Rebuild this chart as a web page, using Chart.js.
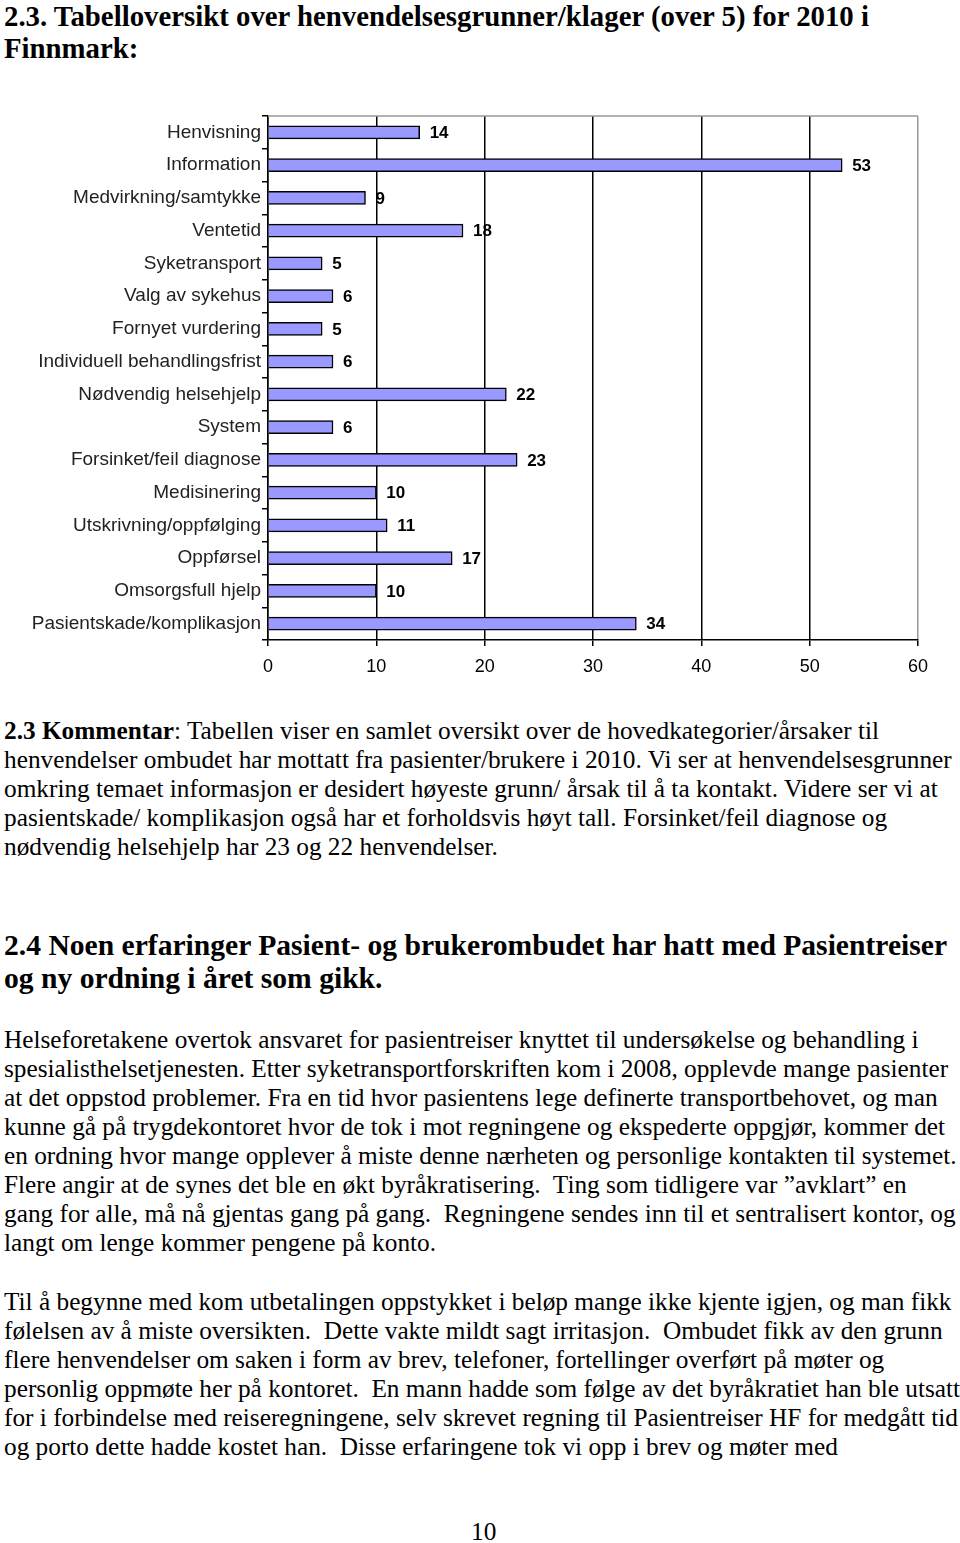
<!DOCTYPE html>
<html>
<head>
<meta charset="utf-8">
<script src="https://cdn.jsdelivr.net/npm/chart.js@4"></script>
<style>
  body { margin: 0; width: 960px; height: 1543px; background: #fff; position: relative; overflow: hidden; }
  .t { position: absolute; left: 4px; font-family: 'Liberation Serif', 'Times New Roman', serif; color: #000; white-space: nowrap; }
  #title { top: 0; font-size: 28.8px; font-weight: bold; line-height: 32px; }
  #komm { top: 716px; font-size: 25.3px; line-height: 29px; }
  #h24 { top: 929px; font-size: 29.6px; font-weight: bold; line-height: 33px; }
  #p1 { top: 1025px; font-size: 25.3px; line-height: 29px; }
  #p2 { top: 1287px; font-size: 25.3px; line-height: 29px; }
  #pnum { top: 1517px; left: 471px; font-size: 25.3px; line-height: 29px; }
  #wrap { position: absolute; left: 0; top: 100px; width: 960px; height: 590px; }
</style>
</head>
<body>
<div class="t" id="title">2.3. Tabelloversikt over henvendelsesgrunner/klager (over 5) for 2010 i<br>Finnmark:</div>
<div id="wrap"><canvas id="chart"></canvas></div>
<div class="t" id="komm"><b>2.3 Kommentar</b>: Tabellen viser en samlet oversikt over de hovedkategorier/årsaker til<br>henvendelser ombudet har mottatt fra pasienter/brukere i 2010. Vi ser at henvendelsesgrunner<br>omkring temaet informasjon er desidert høyeste grunn/ årsak til å ta kontakt. Videre ser vi at<br>pasientskade/ komplikasjon også har et forholdsvis høyt tall. Forsinket/feil diagnose og<br>nødvendig helsehjelp har 23 og 22 henvendelser.</div>
<div class="t" id="h24">2.4 Noen erfaringer Pasient- og brukerombudet har hatt med Pasientreiser<br>og ny ordning i året som gikk.</div>
<div class="t" id="p1">Helseforetakene overtok ansvaret for pasientreiser knyttet til undersøkelse og behandling i<br>spesialisthelsetjenesten. Etter syketransportforskriften kom i 2008, opplevde mange pasienter<br>at det oppstod problemer. Fra en tid hvor pasientens lege definerte transportbehovet, og man<br>kunne gå på trygdekontoret hvor de tok i mot regningene og ekspederte oppgjør, kommer det<br>en ordning hvor mange opplever å miste denne nærheten og personlige kontakten til systemet.<br>Flere angir at de synes det ble en økt byråkratisering.&nbsp; Ting som tidligere var ”avklart” en<br>gang for alle, må nå gjentas gang på gang.&nbsp; Regningene sendes inn til et sentralisert kontor, og<br>langt om lenge kommer pengene på konto.</div>
<div class="t" id="p2">Til å begynne med kom utbetalingen oppstykket i beløp mange ikke kjente igjen, og man fikk<br>følelsen av å miste oversikten.&nbsp; Dette vakte mildt sagt irritasjon.&nbsp; Ombudet fikk av den grunn<br>flere henvendelser om saken i form av brev, telefoner, fortellinger overført på møter og<br>personlig oppmøte her på kontoret.&nbsp; En mann hadde som følge av det byråkratiet han ble utsatt<br>for i forbindelse med reiseregningene, selv skrevet regning til Pasientreiser HF for medgått tid<br>og porto dette hadde kostet han.&nbsp; Disse erfaringene tok vi opp i brev og møter med</div>
<div class="t" id="pnum">10</div>
<script>
var categories = ['Henvisning', 'Information', 'Medvirkning/samtykke', 'Ventetid', 'Syketransport',
  'Valg av sykehus', 'Fornyet vurdering', 'Individuell behandlingsfrist', 'Nødvendig helsehjelp',
  'System', 'Forsinket/feil diagnose', 'Medisinering', 'Utskrivning/oppfølging', 'Oppførsel',
  'Omsorgsfull hjelp', 'Pasientskade/komplikasjon'];
var counts = [14, 53, 9, 18, 5, 6, 5, 6, 22, 6, 23, 10, 11, 17, 10, 34];
var xTicks = [0, 10, 20, 30, 40, 50, 60];

var valueLabels = {
  id: 'valueLabels',
  afterDatasetsDraw: function (chart) {
    var c = chart.ctx;
    var meta = chart.getDatasetMeta(0);
    c.save();
    c.font = 'bold 17px "Liberation Sans", Arial, sans-serif';
    c.fillStyle = '#000';
    c.textBaseline = 'middle';
    meta.data.forEach(function (bar, i) {
      c.fillText(counts[i], bar.x + 10, bar.y + 1);
    });
    c.restore();
  }
};

var topBorder = {
  id: 'topBorder',
  afterDraw: function (chart) {
    var a = chart.chartArea, c = chart.ctx;
    c.save();
    c.strokeStyle = '#999';
    c.lineWidth = 1.5;
    c.beginPath();
    c.moveTo(a.left, a.top);
    c.lineTo(a.right, a.top);
    c.stroke();
    c.restore();
  }
};

var ctx = document.getElementById('chart').getContext('2d');
var chart = new Chart(ctx, {
  type: 'bar',
  data: {
    labels: categories,
    datasets: [{
      data: counts,
      backgroundColor: '#9999FF',
      borderColor: '#000',
      borderWidth: 1.5,
      barThickness: 13
    }]
  },
  options: {
    indexAxis: 'y',
    responsive: true,
    maintainAspectRatio: false,
    animation: false,
    layout: { padding: { top: 16, right: 42, bottom: 10, left: 0 } },
    plugins: { legend: { display: false }, tooltip: { enabled: false } },
    scales: {
      x: {
        min: 0, max: 60,
        afterBuildTicks: function (s) { s.ticks = xTicks.map(function (v) { return { value: v }; }); },
        afterFit: function (s) { s.height = 40; },
        grid: {
          color: function (c) { return c.tick && c.tick.value === 60 ? '#999' : '#000'; },
          lineWidth: 1.5,
          tickColor: '#000',
          tickLength: 6
        },
        border: { color: '#000', width: 1.5 },
        ticks: { color: '#000', padding: 10, font: { family: '"Liberation Sans", Arial', size: 18 } }
      },
      y: {
        afterFit: function (s) { s.width = 268; },
        grid: { offset: true, drawOnChartArea: false, color: '#000', tickLength: 6, lineWidth: 1.5 },
        border: { color: '#000', width: 1.5 },
        ticks: { color: '#222', padding: 1, autoSkip: false, font: { family: '"Liberation Sans", Arial', size: 19 } }
      }
    }
  },
  plugins: [valueLabels, topBorder]
});
</script>
</body>
</html>
